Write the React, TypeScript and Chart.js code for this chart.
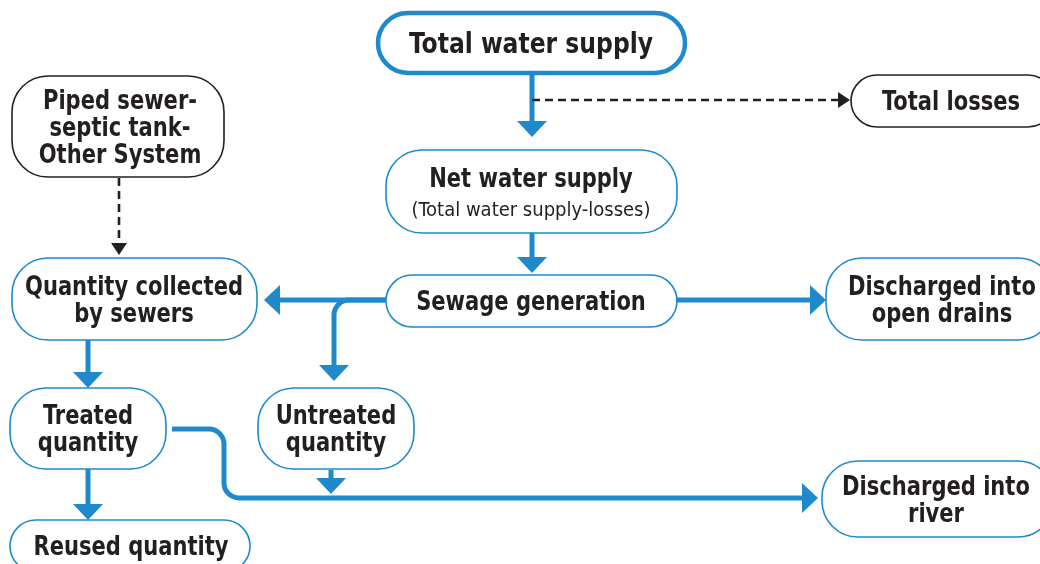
import React, { useEffect, useRef } from "react";
import { Chart, registerables } from "chart.js";
Chart.register(...registerables);

// ---- Flowchart content ----
const nodeLabels = [
  "Total water supply",
  "Total losses",
  "Piped sewer-\nseptic tank-\nOther System",
  "Net water supply",
  "Sewage generation",
  "Quantity collected\nby sewers",
  "Treated\nquantity",
  "Untreated\nquantity",
  "Reused quantity",
  "Discharged into\nopen drains",
  "Discharged into\nriver",
];
const nodeSubLabels = ["", "", "", "(Total water supply-losses)", "", "", "", "", "", "", ""];
const nodeKinds = ["title", "black", "black", "blue", "blue", "blue", "blue", "blue", "blue", "blue", "blue"];

// node frames in diagram units (x: 0..1040, y: 0..564)
const nodeLeft = [378, 851, 12, 386, 386, 12, 10, 258, 10, 826, 822];
const nodeRight = [685, 1054, 224, 677, 677, 257, 166, 414, 250, 1054, 1054];
const nodeTop = [13, 75, 76, 150, 275, 258, 388, 388, 520, 258, 461];
const nodeBottom = [73, 127, 177, 233, 327, 340, 469, 469, 572, 340, 537];
const nodeTextX = [531, 951, 120, 531, 531, 134, 88, 336, 131, 942, 936];

// connectors: polylines (x,y pairs), style and arrow
const edgePoints: number[][][] = [
  [[532, 73], [532, 137]],
  [[532, 100], [850, 100]],
  [[119, 178], [119, 255]],
  [[532, 233], [532, 273]],
  [[386, 300], [264, 300]],
  [[386, 300], [334, 300], [334, 381]],
  [[88, 340], [88, 388]],
  [[88, 469], [88, 520]],
  [[331, 470], [331, 494]],
  [[172, 429], [224, 429], [224, 498], [818, 498]],
  [[677, 300], [826, 300]],
];
const edgeDashed = [false, true, true, false, false, false, false, false, false, false, false];

const BLUE = "#1e8acb";
const INK = "#231f20";
const FONT = "'DejaVu Sans Condensed', 'DejaVu Sans', sans-serif";

function roundRect(ctx: CanvasRenderingContext2D, x0: number, y0: number, x1: number, y1: number, r: number) {
  ctx.beginPath();
  ctx.moveTo(x0 + r, y0);
  ctx.lineTo(x1 - r, y0);
  ctx.arcTo(x1, y0, x1, y0 + r, r);
  ctx.lineTo(x1, y1 - r);
  ctx.arcTo(x1, y1, x1 - r, y1, r);
  ctx.lineTo(x0 + r, y1);
  ctx.arcTo(x0, y1, x0, y1 - r, r);
  ctx.lineTo(x0, y0 + r);
  ctx.arcTo(x0, y0, x0 + r, y0, r);
  ctx.closePath();
}

function squeezedText(ctx: CanvasRenderingContext2D, text: string, x: number, y: number, sx: number) {
  ctx.save();
  ctx.translate(x, y);
  ctx.scale(sx, 1);
  ctx.fillText(text, 0, 0);
  ctx.restore();
}

const flowPlugin = {
  id: "flow",
  afterDatasetsDraw(chart: any) {
    const ctx: CanvasRenderingContext2D = chart.ctx;
    const xs = chart.scales.x;
    const ys = chart.scales.y;
    const px = (v: number) => xs.getPixelForValue(v);
    const py = (v: number) => ys.getPixelForValue(v);
    ctx.save();
    ctx.fillStyle = "#ffffff";
    ctx.fillRect(0, 0, chart.width, chart.height);

    // edges
    edgePoints.forEach((pts, i) => {
      const dashed = edgeDashed[i];
      const p = pts.map(([x, y]) => [px(x), py(y)]);
      const n = p.length;
      const [ex, ey] = p[n - 1];
      const [sx, sy] = p[n - 2];
      const len = Math.hypot(ex - sx, ey - sy);
      const ux = (ex - sx) / len;
      const uy = (ey - sy) / len;
      const headLen = dashed ? 12 : 16;
      const headHalf = dashed ? 8 : 15;
      const bx = ex - ux * headLen;
      const by = ey - uy * headLen;
      ctx.strokeStyle = dashed ? INK : BLUE;
      ctx.fillStyle = dashed ? INK : BLUE;
      ctx.lineWidth = dashed ? 2.6 : 5;
      ctx.setLineDash(dashed ? [8, 5] : []);
      ctx.lineCap = "butt";
      ctx.lineJoin = "round";
      ctx.beginPath();
      ctx.moveTo(p[0][0], p[0][1]);
      for (let k = 1; k < n - 1; k++) {
        ctx.arcTo(p[k][0], p[k][1], p[k + 1][0], p[k + 1][1], 15);
      }
      ctx.lineTo(bx + ux * 1, by + uy * 1);
      ctx.stroke();
      ctx.setLineDash([]);
      ctx.beginPath();
      ctx.moveTo(ex, ey);
      ctx.lineTo(bx - uy * headHalf, by + ux * headHalf);
      ctx.lineTo(bx + uy * headHalf, by - ux * headHalf);
      ctx.closePath();
      ctx.fill();
    });

    // nodes
    nodeLabels.forEach((label, i) => {
      const x0 = px(nodeLeft[i]);
      const x1 = px(nodeRight[i]);
      const y0 = py(nodeTop[i]);
      const y1 = py(nodeBottom[i]);
      const kind = nodeKinds[i];
      const r = Math.min((y1 - y0) / 2, 36);
      roundRect(ctx, x0, y0, x1, y1, r);
      ctx.fillStyle = "#ffffff";
      ctx.fill();
      ctx.lineWidth = kind === "title" ? 4.5 : 1.6;
      ctx.strokeStyle = kind === "black" ? INK : BLUE;
      ctx.stroke();

      const lines = label.split("\n");
      const sub = nodeSubLabels[i];
      const size = kind === "title" ? 29 : 26;
      const lh = 27;
      const cx = px(nodeTextX[i]);
      const cy = (y0 + y1) / 2;
      ctx.fillStyle = INK;
      ctx.textAlign = "center";
      ctx.textBaseline = "middle";
      ctx.font = `bold ${size}px ${FONT}`;
      if (sub) {
        squeezedText(ctx, lines[0], cx, cy - 11, 0.9);
        ctx.font = `20px ${FONT}`;
        squeezedText(ctx, sub, cx, cy + 19, 1);
      } else {
        const startY = cy - ((lines.length - 1) * lh) / 2;
        lines.forEach((ln, k) => squeezedText(ctx, ln, cx, startY + k * lh + 2.5, 0.9));
      }
    });
    ctx.restore();
  },
};

export default function App() {
  const ref = useRef<HTMLCanvasElement | null>(null);
  useEffect(() => {
    if (!ref.current) return;
    const chart = new Chart(ref.current, {
      type: "scatter",
      data: {
        datasets: [
          {
            data: nodeTextX.map((x, i) => ({ x, y: (nodeTop[i] + nodeBottom[i]) / 2 })),
            pointRadius: 0,
          },
        ],
      },
      options: {
        animation: false,
        responsive: false,
        layout: { padding: 0 },
        events: [],
        scales: {
          x: { type: "linear", min: 0, max: 1040, display: false },
          y: { type: "linear", min: 0, max: 564, reverse: true, display: false },
        },
        plugins: { legend: { display: false }, tooltip: { enabled: false } },
      },
      plugins: [flowPlugin],
    });
    return () => chart.destroy();
  }, []);
  return (
    <div style={{ position: "fixed", left: 0, top: 0, width: 1040, height: 564, background: "#fff" }}>
      <canvas ref={ref} width={1040} height={564} style={{ width: 1040, height: 564, display: "block" }} />
    </div>
  );
}
